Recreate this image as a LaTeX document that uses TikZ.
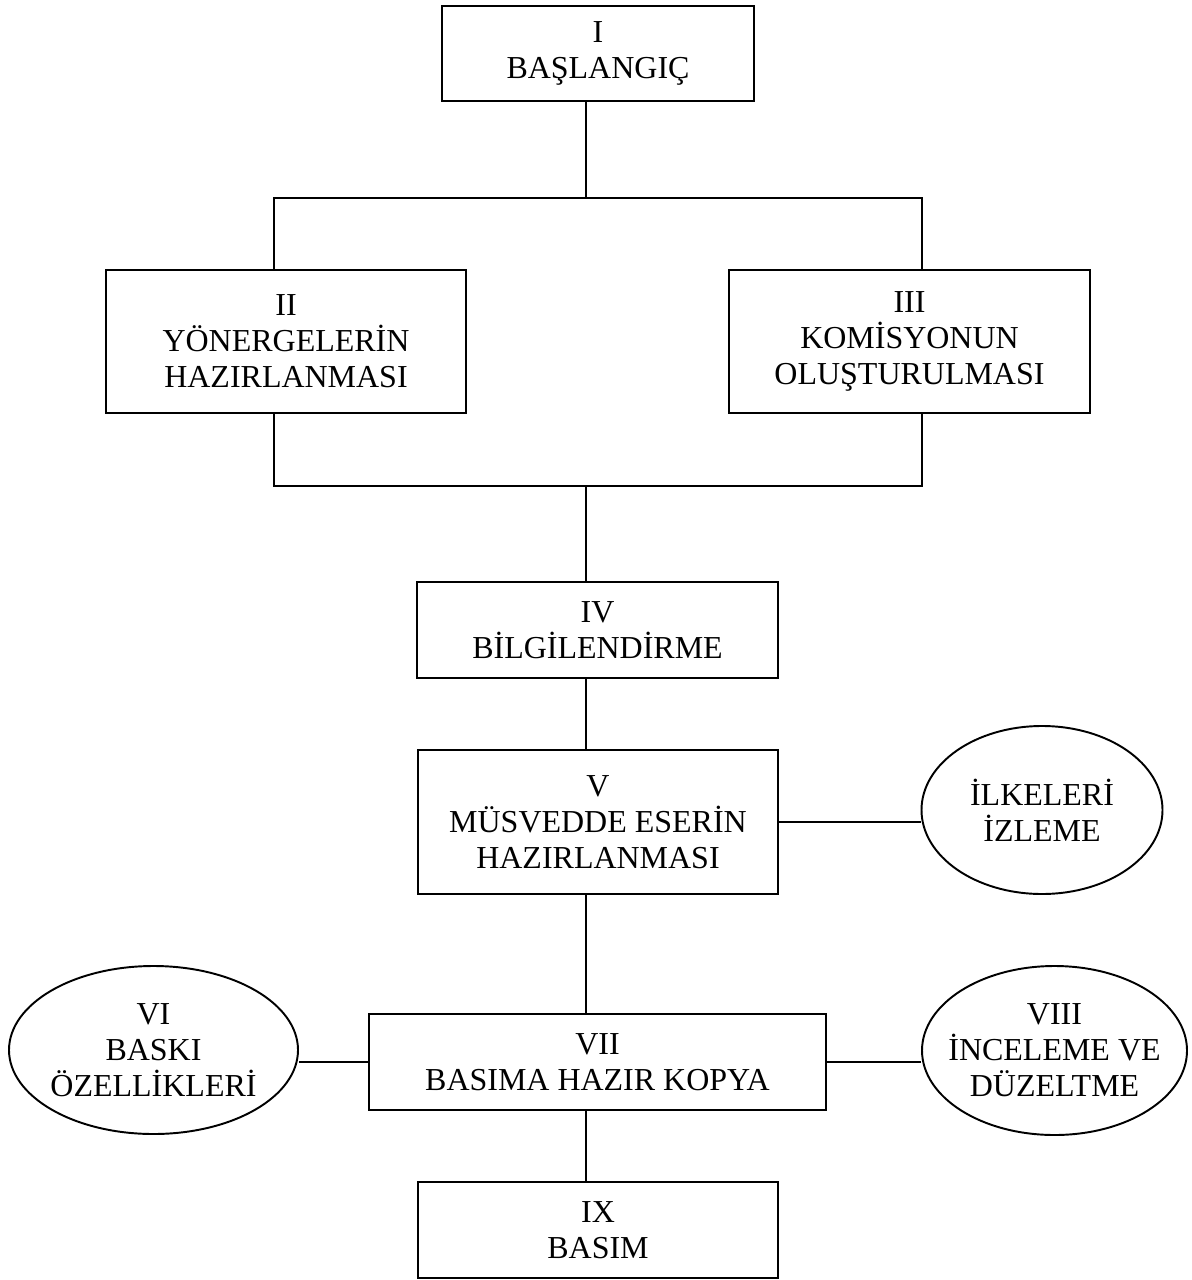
\documentclass[tikz,border=0pt]{standalone}
\usepackage{fontspec}
\setmainfont{Liberation Serif}
\usepackage{tikz}
\usetikzlibrary{positioning, shapes.geometric}

\begin{document}
\begin{tikzpicture}[x=0.02cm, y=-0.02cm, line width=1.1pt,
    kutu/.style={draw=black, rectangle, align=center, inner sep=0pt,
        font=\fontsize{18.2}{20.5}\selectfont},
    elips/.style={draw=black, ellipse, align=center, inner ysep=0pt, inner xsep=-30pt,
        font=\fontsize{18.2}{20.5}\selectfont}]
            \useasboundingbox (0,0) rectangle (1191,1280);

            \node[kutu, minimum width=312*0.02cm, minimum height=95*0.02cm] (bas) at (598,53.5) {I\\BAŞLANGIÇ};
            \node[kutu, minimum width=360*0.02cm, minimum height=143*0.02cm] (yon) at (286,341.5) {II\\YÖNERGELERİN\\HAZIRLANMASI};
            \node[kutu, minimum width=361*0.02cm, minimum height=143*0.02cm] (kom) at (909.5,341.5) {III\\KOMİSYONUN\\OLUŞTURULMASI};
            \node[kutu, minimum width=361*0.02cm, minimum height=96*0.02cm] (bilgi) at (597.5,630) {IV\\BİLGİLENDİRME};
            \node[kutu, minimum width=360*0.02cm, minimum height=144*0.02cm] (musv) at (598,822) {V\\MÜSVEDDE ESERİN\\HAZIRLANMASI};
            \node[kutu, minimum width=457*0.02cm, minimum height=96*0.02cm] (kopya) at (597.5,1062) {VII\\BASIMA HAZIR KOPYA};
            \node[kutu, minimum width=360*0.02cm, minimum height=96*0.02cm] (basim) at (598,1230) {IX\\BASIM};

            \node[elips, minimum width=241*0.02cm, minimum height=168*0.02cm] (ilke) at (1042,810) {İLKELERİ\\İZLEME};
            \node[elips, minimum width=289*0.02cm, minimum height=168*0.02cm] (baski) at (153.5,1050) {VI\\BASKI\\ÖZELLİKLERİ};
            \node[elips, minimum width=265*0.02cm, minimum height=169*0.02cm] (incele) at (1054.5,1050.5) {VIII\\İNCELEME VE\\DÜZELTME};

            \coordinate (ustL) at (274,198);
            \coordinate (ust) at (586,198);
            \coordinate (ustR) at (922,198);
            \coordinate (altL) at (274,486);
            \coordinate (alt) at (586,486);
            \coordinate (altR) at (922,486);

            \draw (ust |- bas.south) -- (ust);
            \draw (ustL |- yon.north) -- (ustL) -- (ustR) -- (ustR |- kom.north);
            \draw (altL |- yon.south) -- (altL) -- (altR) -- (altR |- kom.south);
            \draw (alt) -- (alt |- bilgi.north);
            \draw (alt |- bilgi.south) -- (alt |- musv.north);
            \draw (alt |- musv.south) -- (alt |- kopya.north);
            \draw (alt |- kopya.south) -- (alt |- basim.north);

            \draw (musv.east) -- (musv.east -| ilke.west);
            \draw (kopya.west) -- (kopya.west -| baski.east);
            \draw (kopya.east) -- (kopya.east -| incele.west);
        \end{tikzpicture}
\end{document}
